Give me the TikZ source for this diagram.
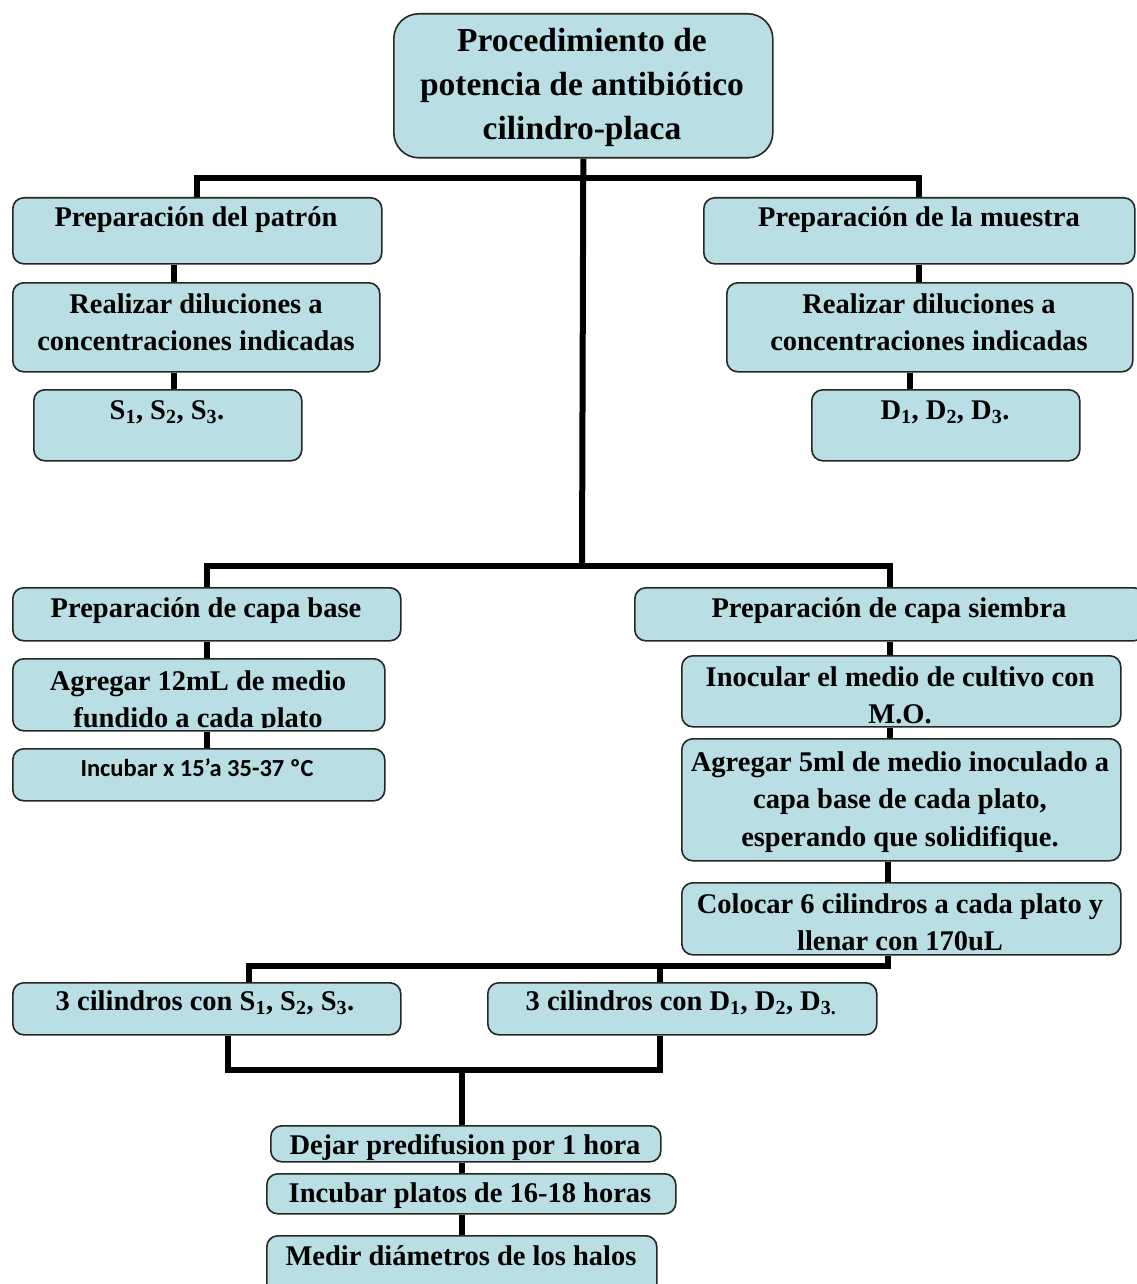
\documentclass[tikz,border=0pt]{standalone}
\usepackage{fontspec}
\setmainfont{Liberation Serif}
\newfontfamily\calibri{Carlito}
\usepackage{tikz}
\usetikzlibrary{backgrounds}
\definecolor{celeste}{RGB}{185,223,228}
\newcommand\letra{\fontsize{28.5}{37.5}\selectfont\bfseries}
\newcommand\letratit{\fontsize{33.5}{44}\selectfont\bfseries}
\newcommand\letracal{\calibri\fontsize{24.5}{28}\selectfont\bfseries}

\begin{document}
\begin{tikzpicture}[x=1pt,y=-1pt,
caja/.style={draw=black!85, line width=1.6pt, fill=celeste, rounded corners=11pt, anchor=north west, inner sep=0pt},
txt/.style={font=\letra, align=center, inner sep=0pt},
linea/.style={black, line width=6pt}]
\useasboundingbox (0,0) rectangle (1136,1284);

\node [caja, rounded corners=25pt, minimum width=379pt, minimum height=144pt] (tit) at (393,13) {};
\node [caja, minimum width=369pt, minimum height=66pt] (pp) at (12,197) {};
\node [caja, minimum width=431pt, minimum height=66pt] (pm) at (703,197) {};
\node [caja, minimum width=367pt, minimum height=89pt] (rl) at (12,282) {};
\node [caja, minimum width=406pt, minimum height=89pt] (rr) at (726,282) {};
\node [caja, minimum width=268pt, minimum height=71pt] (sl) at (33,389) {};
\node [caja, minimum width=268pt, minimum height=71pt] (dr) at (811,389) {};
\node [caja, minimum width=388pt, minimum height=53pt] (base) at (12,587) {};
\node [caja, minimum width=510pt, minimum height=53pt] (siembra) at (634,587) {};
\node [caja, minimum width=372pt, minimum height=72pt] (a12) at (12,658) {};
\node [caja, minimum width=372pt, minimum height=52pt] (inc15) at (12,748) {};
\node [caja, minimum width=439pt, minimum height=71pt] (inoc) at (681,655) {};
\node [caja, minimum width=439pt, minimum height=122pt] (a5) at (681,738) {};
\node [caja, minimum width=439pt, minimum height=72pt] (col) at (681,882) {};
\node [caja, minimum width=388pt, minimum height=52pt] (cilS) at (12,982) {};
\node [caja, minimum width=389pt, minimum height=52pt] (cilD) at (487,982) {};
\node [caja, minimum width=390pt, minimum height=36pt] (dej) at (270,1125) {};
\node [caja, minimum width=409pt, minimum height=40pt] (incp) at (266,1173) {};
\node [caja, minimum width=390pt, minimum height=60pt] (med) at (266,1235) {};

\node [txt, font=\letratit, anchor=north] (ttit) at (582,21) {\strut Procedimiento de\\potencia de antibiótico\\cilindro-placa};
\node [txt, anchor=base] (tpp) at (196,226) {Preparación del patrón};
\node [txt, anchor=base] (tpm) at (919,226) {Preparación de la muestra};
\node [txt, anchor=north] (trl) at (196,287) {\strut Realizar diluciones a\\concentraciones indicadas};
\node [txt, anchor=north] (trr) at (929,287) {\strut Realizar diluciones a\\concentraciones indicadas};
\node [txt, anchor=base] (tsl) at (167,419) {S\textsubscript{1}, S\textsubscript{2}, S\textsubscript{3}.};
\node [txt, anchor=base] (tdr) at (945,419) {D\textsubscript{1}, D\textsubscript{2}, D\textsubscript{3}.};
\node [txt, anchor=base] (tbase) at (206,617) {Preparación de capa base};
\node [txt, anchor=base] (tsiembra) at (889,617) {Preparación de capa siembra};
\begin{scope}
\clip (a12.north west) rectangle ([yshift=4pt]a12.south east);
\node [txt, anchor=north] (ta12) at (198,664) {\strut Agregar 12mL de medio\\fundido a cada plato};
\end{scope}
\node [txt, font=\letracal, anchor=base] (tinc15) at (197,776) {Incubar x 15’a 35-37 ºC};
\begin{scope}
\clip (inoc.north west) rectangle ([yshift=4pt]inoc.south east);
\node [txt, anchor=north] (tinoc) at (900,660) {\strut Inocular el medio de cultivo con\\M.O.};
\end{scope}
\node [txt, anchor=north] (ta5) at (900,745) {\strut Agregar 5ml de medio inoculado a\\capa base de cada plato,\\esperando que solidifique.};
\begin{scope}
\clip (col.north west) rectangle ([yshift=3.5pt]col.south east);
\node [txt, anchor=north] (tcol) at (900,887) {\strut Colocar 6 cilindros a cada plato y\\llenar con 170uL};
\end{scope}
\node [txt, anchor=base] (tcilS) at (205,1010) {3 cilindros con S\textsubscript{1}, S\textsubscript{2}, S\textsubscript{3}.};
\node [txt, anchor=base] (tcilD) at (681,1010) {3 cilindros con D\textsubscript{1}, D\textsubscript{2}, D\textsubscript{3.}};
\node [txt, anchor=base] (tdej) at (465,1154) {Dejar predifusion por 1 hora};
\node [txt, anchor=base] (tincp) at (470,1202) {Incubar platos de 16-18 horas};
\node [txt, anchor=base] (tmed) at (461,1265) {Medir diámetros de los halos};

% uniones
\coordinate (h1) at (582,178);
\coordinate (h2) at (582,566);
\coordinate (h3) at (888,966);
\coordinate (h4) at (462,1070);
\coordinate (cA) at (174,0);
\coordinate (cB) at (910,0);
\coordinate (cE) at (249,0);
\coordinate (cF) at (660,0);
\coordinate (cG) at (228,0);

\begin{scope}[on background layer]
\draw [linea] (tit.south) -- (h2);
\draw [linea] (pp.north) |- (h1) -| (pm.north);
\draw [linea] (pp.south -| cA) -- (rl.north -| cA);
\draw [linea] (rl.south -| cA) -- (sl.north -| cA);
\draw [linea] (pm.south) -- (pm.south |- rr.north);
\draw [linea] (rr.south -| cB) -- (dr.north -| cB);
\draw [linea] (base.north) |- (h2) -| (siembra.north);
\draw [linea] (base.south) -- (base.south |- a12.north);
\draw [linea] (a12.south -| base.south) -- (inc15.north -| base.south);
\draw [linea] (siembra.south) -- (siembra.south |- inoc.north);
\draw [linea] (inoc.south -| siembra.south) -- (a5.north -| siembra.south);
\draw [linea] (a5.south -| h3) -- (col.north -| h3);
\draw [linea] (col.south -| h3) -- (h3) -| (cilS.north -| cE);
\draw [linea] (h3 -| cF) -- (cilD.north -| cF);
\draw [linea] (cilS.south -| cG) |- (h4) -| (cilD.south -| cF);
\draw [linea] (h4) -- (dej.north -| h4);
\draw [linea] (dej.south -| h4) -- (incp.north -| h4);
\draw [linea] (incp.south -| h4) -- (med.north -| h4);
\end{scope}

\end{tikzpicture}
\end{document}
